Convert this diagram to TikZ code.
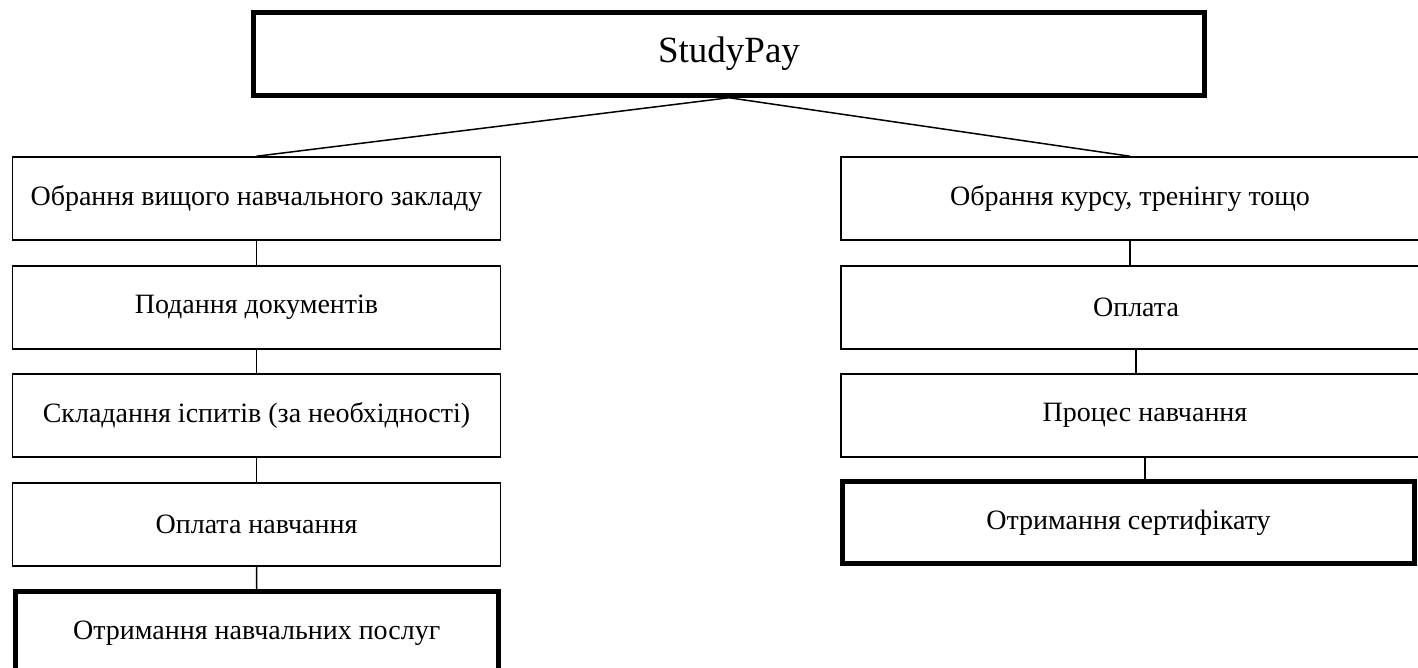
\documentclass[tikz,border=0pt]{standalone}
\usepackage{fontspec}
\setmainfont{Liberation Serif}
\begin{document}
\begin{tikzpicture}[x=1pt,y=-1pt,
  box/.style={draw,rectangle,line width=1.5pt,inner sep=0pt,minimum height=83pt,font=\fontsize{28}{34}\selectfont},
  endbox/.style={box,line width=5pt,minimum height=82pt}]
\useasboundingbox (0,0) rectangle (1418,668);
\clip (0,0) rectangle (1418,668);
\node[endbox,minimum width=951pt,minimum height=82.5pt,font=\fontsize{37}{44}\selectfont] (sp) at (729,54) {StudyPay};
\node[box,minimum width=488pt] (l1) at (256.5,198.5) {Обрання вищого навчального закладу};
\node[box,minimum width=488pt] (l2) at (256.5,307.5) {Подання документів};
\node[box,minimum width=488pt] (l3) at (256.5,415.5) {Складання іспитів (за необхідності)};
\node[box,minimum width=488pt] (l4) at (256.5,524.5) {Оплата навчання};
\node[endbox,minimum width=483.5pt,minimum height=83pt] (l5) at (256.75,633) {Отримання навчальних послуг};
\node[box,minimum width=578pt] (r1) at (1130,198.5) {Обрання курсу, тренінгу тощо};
\node[box,minimum width=590pt] (r2) at (1136,307.5) {Оплата};
\node[box,minimum width=608pt] (r3) at (1145,415.5) {Процес навчання};
\node[endbox,minimum width=572pt] (r4) at (1128.5,522.5) {Отримання сертифікату};
\draw[line width=1.5pt] (sp.south) -- (l1.north);
\draw[line width=1.5pt] (sp.south) -- (r1.north);
\draw[line width=1.5pt] (l1) -- (l2);
\draw[line width=1.5pt] (l2) -- (l3);
\draw[line width=1.5pt] (l3) -- (l4);
\draw[line width=1.5pt] (l4) -- (l5);
\draw[line width=1.5pt] (r1.south) -- (r1.south |- r2.north);
\draw[line width=1.5pt] (r2.south) -- (r2.south |- r3.north);
\draw[line width=1.5pt] (r3.south) -- (r3.south |- r4.north);
\end{tikzpicture}
\end{document}
